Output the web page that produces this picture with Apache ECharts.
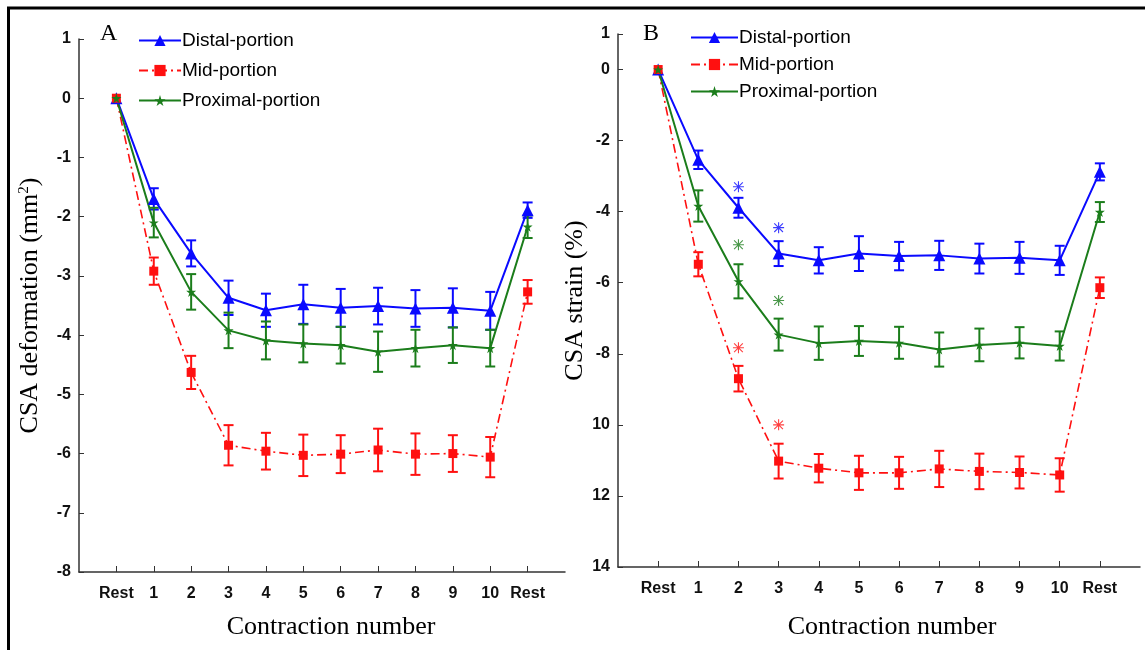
<!DOCTYPE html>
<html>
<head>
<meta charset="utf-8">
<script src="https://cdn.jsdelivr.net/npm/echarts@6/dist/echarts.min.js"></script>
<style>
html,body{margin:0;padding:0;background:#fff;}
#chart{width:1145px;height:650px;}
</style>
</head>
<body>
<div id="chart"></div>
<script>
// x positions and tick labels
var xPos = [0,1,2,3,4,5,6,7,8,9,10,11];
var xLabels = ['Rest','1','2','3','4','5','6','7','8','9','10','Rest'];

// panel A : CSA deformation (mm2)
var distA    = [0,-1.70,-2.62,-3.37,-3.58,-3.48,-3.54,-3.51,-3.55,-3.54,-3.59,-1.89];
var distAErr = [0,0.18,0.22,0.29,0.28,0.33,0.32,0.31,0.31,0.33,0.32,0.13];
var midA     = [0,-2.92,-4.63,-5.86,-5.96,-6.03,-6.01,-5.94,-6.01,-6.00,-6.06,-3.27];
var midAErr  = [0,0.23,0.28,0.34,0.31,0.35,0.32,0.36,0.35,0.31,0.34,0.20];
var proxA    = [0,-2.10,-3.27,-3.92,-4.09,-4.14,-4.17,-4.28,-4.22,-4.17,-4.22,-2.17];
var proxAErr = [0,0.25,0.30,0.30,0.32,0.32,0.31,0.34,0.31,0.30,0.31,0.19];

// panel B : CSA strain (%)
var distB    = [0,-2.54,-3.89,-5.18,-5.37,-5.18,-5.25,-5.23,-5.32,-5.30,-5.37,-2.88];
var distBErr = [0,0.26,0.28,0.35,0.37,0.49,0.40,0.41,0.42,0.45,0.41,0.24];
var midB     = [0,-5.48,-8.70,-11.02,-11.22,-11.35,-11.35,-11.24,-11.31,-11.34,-11.41,-6.14];
var midBErr  = [0,0.34,0.36,0.49,0.40,0.48,0.45,0.51,0.50,0.45,0.47,0.29];
var proxB    = [0,-3.84,-5.96,-7.46,-7.70,-7.64,-7.69,-7.88,-7.75,-7.69,-7.78,-4.01];
var proxBErr = [0,0.44,0.48,0.45,0.47,0.42,0.45,0.48,0.46,0.44,0.41,0.28];

// significance asterisks in B (x, y)
var starDistB = [[2,-3.30],[3,-4.45]];
var starProxB = [[2,-4.93],[3,-6.50]];
var starMidB  = [[2,-7.83],[3,-10.0]];

// y tick labels in B (the figure prints the last ones without minus)
var yTicksB = [1,0,-2,-4,-6,-8,-10,-12,-14];
var yTickTextB = ['1','0','-2','-4','-6','-8','10','12','14'];

var BLUE = '#0a0aff', RED = '#ff1010', GREEN = '#1b7d1b';
var STAR = 'path://M50 0 L61 35 L98 35 L68 57 L79 91 L50 70 L21 91 L32 57 L2 35 L39 35 Z';
var ASTER = 'path://M4.5 0 H5.5 V10 H4.5 Z M0 4.5 H10 V5.5 H0 Z M0.7 1.4 L1.4 0.7 L9.3 8.6 L8.6 9.3 Z M8.6 0.7 L9.3 1.4 L1.4 9.3 L0.7 8.6 Z';

var tickFont = {fontFamily:'"Liberation Sans Narrow","Arial Narrow",Arial,sans-serif', fontWeight:'bold', fontSize:16, color:'#111'};
var serif = '"Liberation Serif","Times New Roman",serif';

function pairs(vals){
	return xPos.map(function(x,i){ return [x, vals[i]]; });
}
function errData(vals, errs){
	return xPos.map(function(x,i){ return [x, vals[i], errs[i]]; });
}
function errSeries(vals, errs, color, idx){
	return {
		type:'custom',
		xAxisIndex:idx, yAxisIndex:idx,
		silent:true, z:3,
		data:errData(vals, errs),
		renderItem:function(params, api){
			var x = api.value(0), y = api.value(1), e = api.value(2);
			if(!e){ return null; }
			var top = api.coord([x, y + e]);
			var bot = api.coord([x, y - e]);
			var st = {stroke:color, lineWidth:2};
			return {type:'group', children:[
				{type:'line', shape:{x1:top[0],y1:top[1],x2:bot[0],y2:bot[1]}, style:st},
				{type:'line', shape:{x1:top[0]-5,y1:top[1],x2:top[0]+5,y2:top[1]}, style:st},
				{type:'line', shape:{x1:bot[0]-5,y1:bot[1],x2:bot[0]+5,y2:bot[1]}, style:st}
			]};
		}
	};
}
function lineSeries(name, vals, color, symbol, size, dash, idx){
	return {
		name:name, type:'line',
		xAxisIndex:idx, yAxisIndex:idx,
		data:pairs(vals),
		symbol:symbol, symbolSize:size,
		itemStyle:{color:color},
		lineStyle:{color:color, width:dash ? 1.6 : 2, type:dash ? [9,4,2,4] : 'solid'},
		z:4
	};
}
function starSeries(pts, color){
	return {type:'scatter', xAxisIndex:1, yAxisIndex:1, data:pts, symbol:ASTER, symbolSize:11,
		itemStyle:{color:color}, silent:true, z:5};
}
function xAxisCfg(idx, gap, pad){
	return {
		type:'value', gridIndex:idx, min:-1, max:12,
		axisLine:{show:true, onZero:false, lineStyle:{color:'#333', width:1.5}},
		axisTick:{show:true, inside:true, length:6, customValues:xPos, lineStyle:{color:'#333'}},
		axisLabel:Object.assign({margin:14, customValues:xPos, formatter:function(v){ return xLabels[v]; }}, tickFont),
		splitLine:{show:false},
		name:'Contraction number', nameLocation:'middle', nameGap:gap,
		nameTextStyle:{fontFamily:serif, fontSize:26, color:'#000', padding:pad}
	};
}

var chart = echarts.init(document.getElementById('chart'));
var names = ['Distal-portion','Mid-portion','Proximal-portion'];

var option = {
	animation:false,
	backgroundColor:'#fff',
	grid:[
		{left:79, top:39, width:486, height:533},
		{left:618, top:34, width:522, height:533}
	],
	legend:[
		{orient:'vertical', left:133, top:26, itemWidth:42, itemHeight:14, itemGap:11, data:names,
			textStyle:{fontFamily:'"Liberation Sans",Arial,sans-serif', fontSize:19, color:'#000', padding:[0,0,0,-4]}},
		{orient:'vertical', left:685, top:23, itemWidth:47, itemHeight:14, itemGap:8, data:names,
			textStyle:{fontFamily:'"Liberation Sans",Arial,sans-serif', fontSize:19, color:'#000', padding:[0,0,0,-4]}}
	],
	xAxis:[xAxisCfg(0, 42, [0,0,0,18]), xAxisCfg(1, 47, [0,0,0,26])],
	yAxis:[
		{
			type:'value', gridIndex:0, min:-8, max:1, interval:1,
			axisLine:{show:true, onZero:false, lineStyle:{color:'#333', width:1.5}},
			axisTick:{show:true, inside:true, length:5, lineStyle:{color:'#333'}},
			axisLabel:Object.assign({margin:8}, tickFont),
			splitLine:{show:false},
			name:'CSA deformation (mm{sup|2})', nameLocation:'middle', nameGap:36, nameRotate:90,
			nameTextStyle:{fontFamily:serif, fontSize:26, color:'#000',
				rich:{sup:{fontFamily:serif, fontSize:15, verticalAlign:'top', padding:[0,0,10,0]}}}
		},
		{
			type:'value', gridIndex:1, min:-14, max:1,
			axisLine:{show:true, onZero:false, lineStyle:{color:'#333', width:1.5}},
			axisTick:{show:true, inside:true, length:5, customValues:yTicksB, lineStyle:{color:'#333'}},
			axisLabel:Object.assign({margin:8, customValues:yTicksB, formatter:function(v){
				var i = yTicksB.indexOf(v); return i < 0 ? '' : yTickTextB[i];
			}}, tickFont),
			splitLine:{show:false},
			name:'CSA strain (%)', nameLocation:'middle', nameGap:28, nameRotate:90,
			nameTextStyle:{fontFamily:serif, fontSize:26, color:'#000'}
		}
	],
	graphic:[
		{type:'line', shape:{x1:7, y1:8, x2:1145, y2:8}, style:{stroke:'#000', lineWidth:3}},
		{type:'line', shape:{x1:8.5, y1:7, x2:8.5, y2:650}, style:{stroke:'#000', lineWidth:3}},
		{type:'text', left:100, top:22, style:{text:'A', font:'24px ' + serif, fill:'#000'}},
		{type:'text', left:643, top:22, style:{text:'B', font:'24px ' + serif, fill:'#000'}}
	],
	series:[
		errSeries(distA, distAErr, BLUE, 0),
		errSeries(midA, midAErr, RED, 0),
		errSeries(proxA, proxAErr, GREEN, 0),
		lineSeries(names[0], distA, BLUE, 'triangle', 12, false, 0),
		lineSeries(names[1], midA, RED, 'rect', 9, true, 0),
		lineSeries(names[2], proxA, GREEN, STAR, 10, false, 0),

		errSeries(distB, distBErr, BLUE, 1),
		errSeries(midB, midBErr, RED, 1),
		errSeries(proxB, proxBErr, GREEN, 1),
		lineSeries(names[0], distB, BLUE, 'triangle', 12, false, 1),
		lineSeries(names[1], midB, RED, 'rect', 9, true, 1),
		lineSeries(names[2], proxB, GREEN, STAR, 10, false, 1),

		starSeries(starDistB, BLUE),
		starSeries(starProxB, GREEN),
		starSeries(starMidB, RED)
	]
};
chart.setOption(option);
</script>
</body>
</html>
